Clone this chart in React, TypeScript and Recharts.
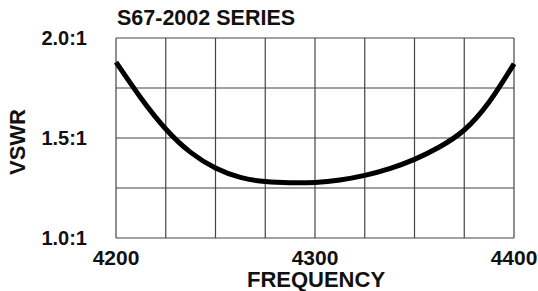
import { CartesianGrid, Line, LineChart, XAxis, YAxis } from "recharts";

// Every half grid division (12.5 MHz).
const frequencies = [
  4200, 4212.5, 4225, 4237.5, 4250, 4262.5, 4275, 4287.5, 4300, 4312.5, 4325,
  4337.5, 4350, 4362.5, 4375, 4387.5, 4400,
];
const vswr = [
  1.879, 1.7, 1.545, 1.428, 1.35, 1.303, 1.282, 1.276, 1.278, 1.29, 1.313,
  1.347, 1.393, 1.455, 1.54, 1.68, 1.871,
];

const xTicks = [4200, 4225, 4250, 4275, 4300, 4325, 4350, 4375, 4400];
const xTickLabels: Record<number, string> = { 4200: "4200", 4300: "4300", 4400: "4400" };
const yTicks = [1, 1.25, 1.5, 1.75, 2];
const yTickLabels: Record<number, string> = { 1: "1.0:1", 1.5: "1.5:1", 2: "2.0:1" };

const FONT = "'Liberation Sans', Arial, Helvetica, sans-serif";

const data = frequencies.map((f, i) => ({ f, v: vswr[i] }));

export default function App() {
  return (
    <div style={{ position: "absolute", left: 0, top: 0, width: 538, height: 291, background: "#fff" }}>
      <LineChart
        width={538}
        height={291}
        data={data}
        margin={{ top: 38, right: 24, bottom: 20, left: 0 }}
      >
        <CartesianGrid stroke="#444" strokeWidth={1.2} />
        <XAxis
          dataKey="f"
          type="number"
          domain={[4200, 4400]}
          ticks={xTicks}
          interval={0}
          tickFormatter={(v: number) => xTickLabels[v] ?? ""}
          axisLine={false}
          tickLine={false}
          tickSize={0}
          tickMargin={12}
          height={33}
          tick={{ fontFamily: FONT, fontSize: 21, fontWeight: 700, fill: "#111" }}
        />
        <YAxis
          type="number"
          domain={[1, 2]}
          ticks={yTicks}
          interval={0}
          tickFormatter={(v: number) => yTickLabels[v] ?? ""}
          axisLine={false}
          tickLine={false}
          tickSize={0}
          tickMargin={29}
          width={116}
          tick={{ fontFamily: FONT, fontSize: 20, fontWeight: 700, fill: "#111" }}
        />
        <Line
          dataKey="v"
          type="natural"
          stroke="#000"
          strokeWidth={5}
          dot={false}
          isAnimationActive={false}
        />
      </LineChart>
      <svg
        width={538}
        height={291}
        style={{ position: "absolute", left: 0, top: 0, pointerEvents: "none" }}
      >
        <g fontFamily={FONT} fontWeight={700} fill="#111">
          <text x={117} y={25} fontSize={21.5}>
            S67-2002 SERIES
          </text>
          <text x={316} y={287} fontSize={22} textAnchor="middle">
            FREQUENCY
          </text>
          <text x={24.5} y={142} fontSize={22} textAnchor="middle" transform="rotate(-90 24.5 142)">
            VSWR
          </text>
        </g>
      </svg>
    </div>
  );
}
